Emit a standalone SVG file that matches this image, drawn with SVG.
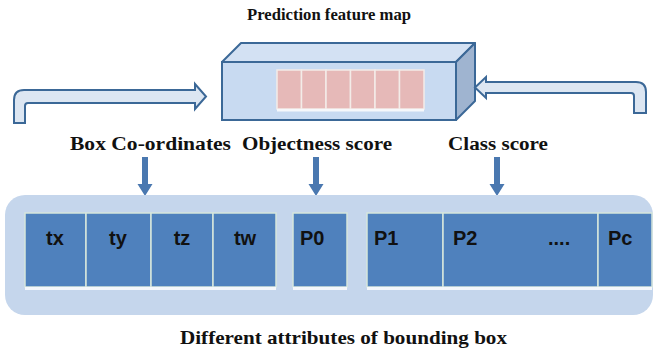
<svg xmlns="http://www.w3.org/2000/svg" width="657" height="356" viewBox="0 0 657 356">
<style>
.lbl{font-family:"Liberation Serif","Times New Roman",serif;font-weight:bold;fill:#111;}
.cell{fill:#4f81bd;stroke:#d6e6dc;stroke-width:1.5;}
.ct{font-family:"Liberation Sans",Arial,sans-serif;font-weight:bold;font-size:20px;fill:#111;}
.hollow{fill:#dce6f2;stroke:#3b6897;stroke-width:2;stroke-linejoin:miter;}
.down{fill:#4a78b0;}
</style>
<rect width="657" height="356" fill="#ffffff"/>
<text class="lbl" x="329" y="20" font-size="17" text-anchor="middle" textLength="164" lengthAdjust="spacingAndGlyphs">Prediction feature map</text>
<g id="feature-map">
<polygon points="222,62 241,43 475,43 456,62" fill="#d3e1f3" stroke="#3b6897" stroke-width="2" stroke-linejoin="round"/>
<polygon points="456,62 475,43 475,101 456,120" fill="#9fb4d0" stroke="#3b6897" stroke-width="2" stroke-linejoin="round"/>
<rect x="222" y="62" width="234" height="58" fill="#c8daf1" stroke="#3b6897" stroke-width="2"/>
<g fill="#e6b9b8" stroke="#f3ece8" stroke-width="1.5">
<rect x="277" y="70" width="24.5" height="39"/>
<rect x="301.5" y="70" width="24.5" height="39"/>
<rect x="326" y="70" width="24.5" height="39"/>
<rect x="350.5" y="70" width="24.5" height="39"/>
<rect x="375" y="70" width="24.5" height="39"/>
<rect x="399.5" y="70" width="24.5" height="39"/>
</g>
<rect x="277" y="109" width="147" height="2.5" fill="#f6f8fb"/>
</g>
<g id="connectors">
<path class="hollow" d="M14,123 L14,100 Q14,90 24,90 L195,90 L195,84 L206,96.5 L195,109 L195,103 L28,103 Q25,103 25,106 L25,123 Z"/>
<path class="hollow" d="M475,87.5 L486,77 L486,82 L636,82 Q646,82 646,92 L646,113 L634,113 L634,96 Q634,93 631,93 L486,93 L486,98 Z"/>
<path class="down" d="M142,157 L148,157 L148,184 L152.5,184 L145,196 L137.5,184 L142,184 Z"/>
<path class="down" d="M313,157 L319,157 L319,184 L323.5,184 L316,196 L308.5,184 L313,184 Z"/>
<path class="down" d="M494,157 L500,157 L500,184 L504.5,184 L497,196 L489.5,184 L494,184 Z"/>
</g>
<text class="lbl" x="70" y="150" font-size="18" textLength="161" lengthAdjust="spacingAndGlyphs">Box Co-ordinates</text>
<text class="lbl" x="242" y="150" font-size="18" textLength="150" lengthAdjust="spacingAndGlyphs">Objectness score</text>
<text class="lbl" x="448" y="150" font-size="18" textLength="100" lengthAdjust="spacingAndGlyphs">Class score</text>
<g id="attributes">
<rect x="5" y="195" width="648" height="120" rx="20" fill="#c5d6ec"/>
<g id="box-coords">
<rect class="cell" x="25" y="213" width="61" height="74"/>
<rect class="cell" x="86" y="213" width="65" height="74"/>
<rect class="cell" x="151" y="213" width="62" height="74"/>
<rect class="cell" x="213" y="213" width="63" height="74"/>
<rect x="25" y="287" width="251" height="3" fill="#f4f7fb"/>
<text class="ct" x="55" y="245" text-anchor="middle">tx</text>
<text class="ct" x="118" y="245" text-anchor="middle">ty</text>
<text class="ct" x="182" y="245" text-anchor="middle">tz</text>
<text class="ct" x="245" y="245" text-anchor="middle">tw</text>
</g>
<g id="objectness">
<rect class="cell" x="293" y="213" width="54" height="74"/>
<rect x="293" y="287" width="54" height="3" fill="#f4f7fb"/>
<text class="ct" x="300" y="245">P0</text>
</g>
<g id="class-scores">
<rect class="cell" x="367" y="213" width="76" height="74"/>
<rect class="cell" x="443" y="213" width="155" height="74"/>
<rect class="cell" x="598" y="213" width="54" height="74"/>
<rect x="367" y="287" width="285" height="3" fill="#f4f7fb"/>
<text class="ct" x="374" y="245">P1</text>
<text class="ct" x="453" y="245">P2</text>
<text class="ct" x="548" y="245">....</text>
<text class="ct" x="608" y="245">Pc</text>
</g>
</g>
<text class="lbl" x="180" y="344" font-size="19" textLength="327" lengthAdjust="spacingAndGlyphs">Different attributes of bounding box</text>
</svg>
